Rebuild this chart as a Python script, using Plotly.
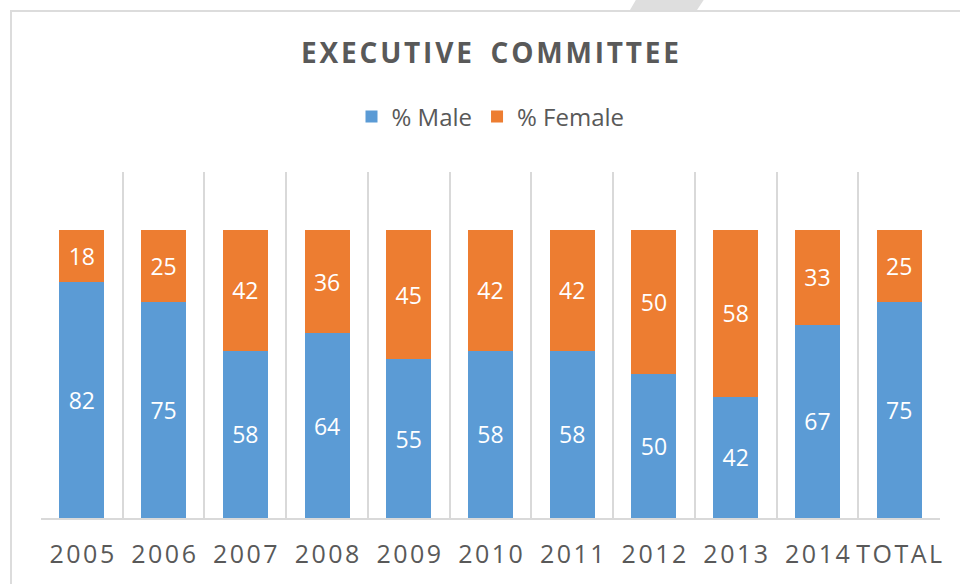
import plotly.graph_objects as go

categories = ["2005", "2006", "2007", "2008", "2009", "2010", "2011", "2012", "2013", "2014", "TOTAL"]
male = [82, 75, 58, 64, 55, 58, 58, 50, 42, 67, 75]
female = [18, 25, 42, 36, 45, 42, 42, 50, 58, 33, 25]

BLUE = "#5B9BD5"
ORANGE = "#ED7D31"
GREY_TXT = "#595959"
GRID = "#d9d9d9"
FONT = "Open Sans"

HS = "\u200a"  # hair space for letter spacing
def spaced(s, sep=HS):
    return sep.join(list(s))

xpos = list(range(len(categories)))
ticktext = [spaced(c) for c in categories]

fig = go.Figure()
fig.add_trace(go.Bar(
    x=xpos, y=male, name="% Male", marker=dict(color=BLUE, line=dict(width=0)),
    text=[str(v) for v in male], textposition="inside", insidetextanchor="middle",
    textfont=dict(color="white", size=23, family=FONT), width=0.55,
))
fig.add_trace(go.Bar(
    x=xpos, y=female, name="% Female", marker=dict(color=ORANGE, line=dict(width=0)),
    text=[str(v) for v in female], textposition="inside", insidetextanchor="middle",
    textfont=dict(color="white", size=23, family=FONT), width=0.55,
))

title_text = "\u200a".join(list("EXECUTIVE")) + "\u2002\u2009" + "\u200a".join(list("COMMITTEE"))

fig.update_layout(
    barmode="stack",
    width=960, height=584,
    margin=dict(l=41, r=20, t=172, b=66),
    paper_bgcolor="white", plot_bgcolor="white",
    font=dict(family=FONT, color=GREY_TXT),
    title=dict(text="<b>" + title_text + "</b>", x=490 / 960, xanchor="center",
               y=1 - 53 / 584, yanchor="middle",
               font=dict(size=28, color=GREY_TXT, family=FONT)),
    legend=dict(orientation="h", x=0.5, xanchor="center", y=1 + (172 - 117) / 346,
                yanchor="middle", font=dict(size=24, color=GREY_TXT, family=FONT),
                itemwidth=30, traceorder="normal"),
    uniformtext=dict(mode=False),
    showlegend=True,
)
fig.update_xaxes(
    range=[-0.5, 10.5], tickmode="array", tickvals=xpos, ticktext=ticktext,
    tickfont=dict(size=25, color=GREY_TXT, family=FONT),
    showgrid=False, zeroline=False,
    showline=True, linecolor=GRID, linewidth=2,
    ticks="", ticklabelstandoff=13,
    minor=dict(tickmode="linear", tick0=-0.5, dtick=1, showgrid=True,
               gridcolor=GRID, gridwidth=2, ticks=""),
)
fig.update_yaxes(range=[0, 120], visible=False, showgrid=False, zeroline=False)

def px(xp):
    return (xp - 41) / 899
def py(yp):
    return 1 + (172 - yp) / 346

# chart-area border (top and left) and decorative shape at top
fig.add_shape(type="line", xref="paper", yref="paper",
              x0=px(10), x1=px(965), y0=py(11), y1=py(11),
              line=dict(color="#dcdcdc", width=2))
fig.add_shape(type="line", xref="paper", yref="paper",
              x0=px(11), x1=px(11), y0=py(590), y1=py(11),
              line=dict(color="#dcdcdc", width=2))
fig.add_shape(type="path", xref="paper", yref="paper",
              path=f"M {px(630)} {py(10)} L {px(637)} {py(-2)} L {px(705)} {py(-2)} L {px(697)} {py(10)} Z",
              fillcolor="#dedede", line=dict(width=0), layer="below")

fig.write_html("out.html", config={"displayModeBar": False},
               post_script="document.body.style.margin='0';document.body.style.overflow='hidden';")
